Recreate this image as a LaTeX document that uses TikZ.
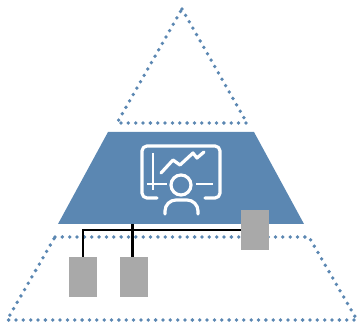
\documentclass[tikz,border=0pt]{standalone}
\definecolor{pblue}{HTML}{5B87B2}
\definecolor{pgray}{HTML}{A9A9A9}
\tikzset{
 dotline/.style={draw=pblue,line width=3.8pt,line cap=round,dash pattern=on 0pt off 7.35pt},
 graybox/.style={fill=pgray,draw=none,minimum width=28pt,minimum height=40pt,inner sep=0pt,outer sep=0pt},
 wire/.style={draw=black,line width=2.7pt},
 icon/.style={draw=white,line width=3.2pt,line cap=round,line join=round},
 iconthin/.style={draw=white,line width=1.5pt}
}
\begin{document}
\begin{tikzpicture}[x=1pt,y=-1pt]
\useasboundingbox (0,0) rectangle (360,324);
% dotted triangles
\draw[dotline] (182,9) -- (247,123) -- (117,123) -- cycle;
\draw[dotline] (55,237) -- (309,237) -- (357,320) -- (7,320) -- cycle;
% trapezoid
\fill[pblue] (108,132) -- (254,132) -- (304,224) -- (58,224) -- cycle;
\coordinate (trap) at (132.5,224);
% icon
\draw[icon] (157,198) -- (147,198) arc[start angle=90,end angle=180,radius=5] -- (142,151) arc[start angle=180,end angle=270,radius=5] -- (215,146) arc[start angle=270,end angle=360,radius=5] -- (220,193) arc[start angle=0,end angle=90,radius=5] -- (205,198);
\draw[icon] (161,173) -- (173,160) -- (180,165) -- (193,153) -- (197,158) -- (204,152);
\draw[iconthin] (153,153) -- (153,190);
\draw[iconthin] (147,184) -- (167,184);
\draw[iconthin] (196,184) -- (213,184);
\node[draw=white,line width=3.2pt,circle,minimum size=20pt,inner sep=0pt] (head) at (181,185) {};
\draw[icon] (165,214) -- (165,211) arc[start angle=180,end angle=270,radius=11] -- (187,200) arc[start angle=270,end angle=360,radius=11] -- (198,214);
% boxes
\node[graybox] (b1) at (83,277) {};
\node[graybox] (b2) at (134,277) {};
\node[graybox] (b3) at (255,230) {};
% wires
\draw[wire] (b1.north) -- (83,230) -- (b3.west);
\draw[wire] (trap) -- (trap |- b2.north);
\end{tikzpicture}
\end{document}
